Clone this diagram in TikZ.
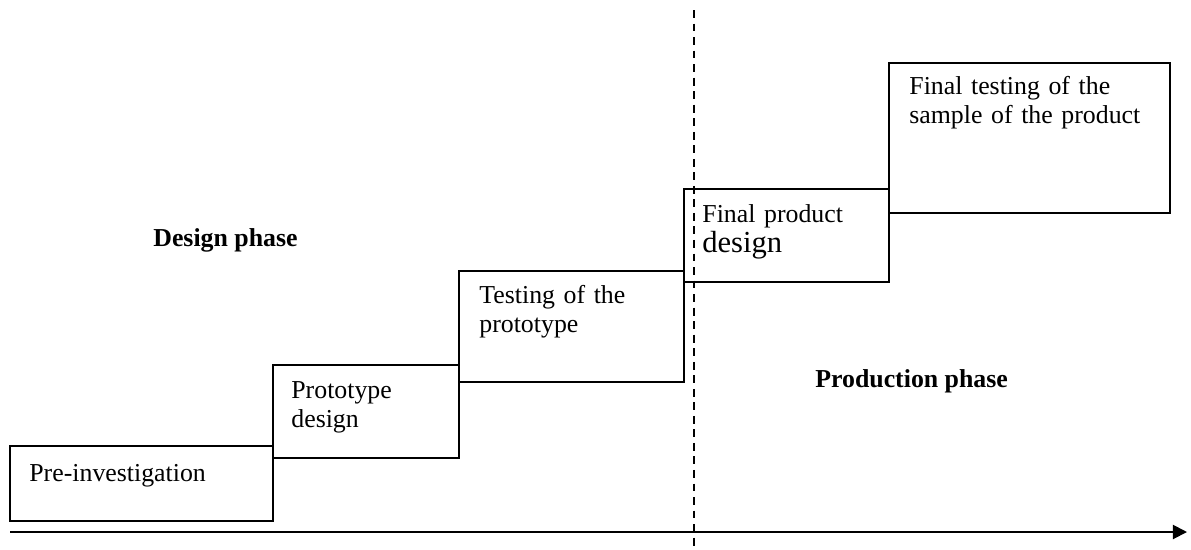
\documentclass[tikz,border=0pt]{standalone}
\usepackage{fontspec}
\setmainfont{Liberation Serif}
\usepackage{tikz}
\usetikzlibrary{positioning,fit,arrows.meta}
\tikzset{stage/.style={draw,line width=1.1pt,inner sep=0pt}}
\tikzset{stagetext/.style={anchor=base west,inner sep=0pt,align=left,text width=5cm,font=\fontsize{14.7}{16.6}\selectfont}}
\tikzset{phase/.style={anchor=base west,inner sep=0pt,font=\fontsize{14.7}{16.6}\selectfont\bfseries}}
\tikzset{timeline/.style={line width=1.1pt,-{Triangle[length=8pt,width=8pt]}}}
\tikzset{split/.style={line width=0.85pt,dash pattern=on 4.5pt off 3.2pt}}

\begin{document}
\begin{tikzpicture}[x=0.02cm,y=-0.02cm]
  \useasboundingbox (0,0) rectangle (1191,549);
  % the five steps
  \node[stage,fit={(10,446) (273,521)}] (pre) {};
  \node[stage,fit={(273,365) (459,458)}] (proto) {};
  \node[stage,fit={(459,271) (684,382)}] (protest) {};
  \node[stage,fit={(684,189) (889,282)}] (fdesign) {};
  \node[stage,fit={(889,63) (1170,213)}] (ftest) {};
  \node[stagetext] (pre-t) at ([shift={(20,36)}]pre.north west) {Pre-investigation};
  \node[stagetext] (proto-t) at ([shift={(19,34)}]proto.north west) {Prototype\\design};
  \node[stagetext] (protest-t) at ([shift={(21,33)}]protest.north west) {Testing of the\\prototype};
  \node[stagetext] (fdesign-t) at ([shift={(19,34)}]fdesign.north west) {Final product\\[1pt]{\fontsize{17.4}{20}\selectfont design}};
  \node[stagetext] (ftest-t) at ([shift={(21,32)}]ftest.north west) {Final testing of the\\sample of the product};
  % phases
  \node[phase] (design) at (153,246) {Design phase};
  \node[phase] (production) at (815,387) {Production phase};
  \coordinate (split-top) at (694,10);
  \coordinate (split-bot) at (694,549);
  \draw[split] (split-top) -- (split-bot);
  \coordinate (axis-start) at (10,532);
  \coordinate (axis-end) at (1187,532);
  \draw[timeline] (axis-start) -- (axis-end);
\end{tikzpicture}
\end{document}
